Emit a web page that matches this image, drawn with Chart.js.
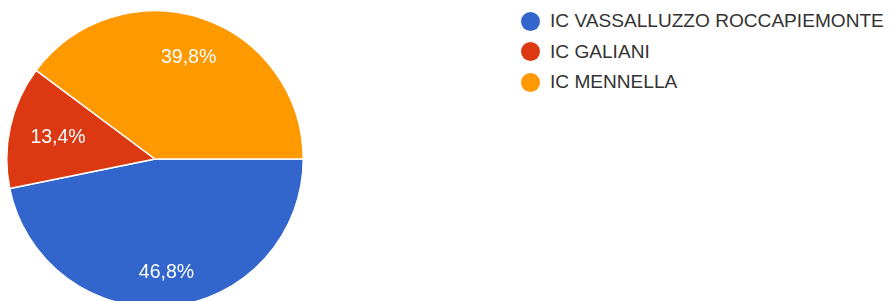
<!DOCTYPE html>
<html>
<head>
<meta charset="utf-8">
<script src="https://cdn.jsdelivr.net/npm/chart.js@4"></script>
<style>
  html, body { margin: 0; padding: 0; background: #fff; overflow: hidden; }
  body { width: 894px; height: 301px; position: relative; }
  #pieWrap { position: absolute; left: 6px; top: 10px; width: 298px; height: 298px; }
  #legend { position: absolute; left: 521px; top: 6px; width: 370px; white-space: nowrap; font-family: "Liberation Sans", Arial, sans-serif; font-size: 19.1px; color: #333; }
  .item { display: flex; align-items: center; height: 30.5px; }
  .dot { flex: none; width: 19px; height: 19px; border-radius: 50%; margin-right: 10px; }
</style>
</head>
<body>
<div id="pieWrap"><canvas id="pieChart"></canvas></div>
<div id="legend"></div>
<script>
// Data
const schools = ['IC VASSALLUZZO ROCCAPIEMONTE', 'IC GALIANI', 'IC MENNELLA'];
const shares = [46.8, 13.4, 39.8];
const sliceColors = ['#3366cc', '#dc3912', '#ff9900'];

// how far out each label sits (fraction of the radius)
const labelDepth = [0.77, 0.67, 0.72];

// Percent labels inside slices
const sliceLabels = {
    id: 'sliceLabels',
    afterDatasetsDraw(chart) {
        const ctx = chart.ctx;
        const meta = chart.getDatasetMeta(0);
        ctx.save();
        ctx.fillStyle = '#ffffff';
        ctx.font = '19.5px "Liberation Sans", Arial, sans-serif';
        ctx.textAlign = 'center';
        ctx.textBaseline = 'middle';
        meta.data.forEach((arc, i) => {
            const p = arc.getProps(['x', 'y', 'startAngle', 'endAngle', 'outerRadius'], true);
            const mid = (p.startAngle + p.endAngle) / 2;
            const r = p.outerRadius * labelDepth[i];
            const text = shares[i].toFixed(1).replace('.', ',') + '%';
            ctx.fillText(text, p.x + Math.cos(mid) * r, p.y + Math.sin(mid) * r);
        });
        ctx.restore();
    }
};

const ctx = document.getElementById('pieChart').getContext('2d');
new Chart(ctx, {
    type: 'pie',
    data: {
        labels: schools,
        datasets: [{
            data: shares,
            backgroundColor: sliceColors,
            borderColor: '#ffffff',
            borderWidth: 1.5
        }]
    },
    options: {
        responsive: true,
        maintainAspectRatio: false,
        animation: false,
        rotation: 90,
        layout: { padding: 0 },
        plugins: {
            legend: { display: false },
            tooltip: { enabled: false }
        }
    },
    plugins: [sliceLabels]
});

// Legend
const legend = document.getElementById('legend');
schools.forEach((name, i) => {
    legend.innerHTML += `
        <div class="item">
            <span class="dot" style="background:${sliceColors[i]}"></span>
            <span>${name}</span>
        </div>
    `;
});
</script>
</body>
</html>
